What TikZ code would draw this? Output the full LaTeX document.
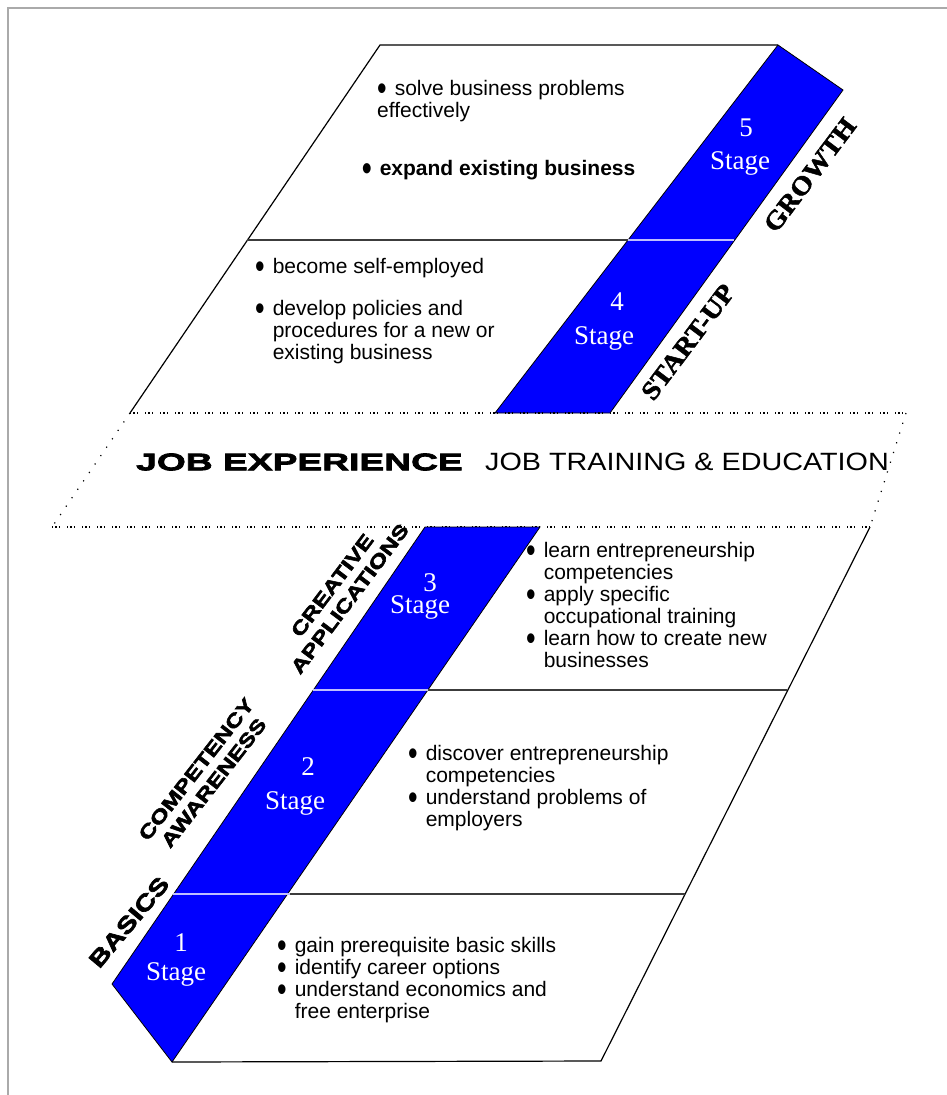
\documentclass[tikz,border=0pt]{standalone}
\usepackage{fontspec}
\setmainfont{Liberation Sans}
\newfontfamily\heavyfont{Liberation Sans}[FakeStretch=1.55, FakeBold=3]
\newfontfamily\phasefont{Liberation Sans}[FakeStretch=1.3, FakeBold=3]
\newfontfamily\widefont{Liberation Sans}[FakeStretch=1.15]
\newfontfamily\slabfont{Liberation Serif}[FakeStretch=1.1, FakeBold=2]
\newfontfamily\stagefont{Liberation Serif}
\usepackage{tikz}
\usetikzlibrary{positioning}

\definecolor{stageblue}{RGB}{0,0,255}
\definecolor{seamblue}{RGB}{190,190,255}
\definecolor{framegray}{RGB}{170,170,170}
\definecolor{rulegray}{RGB}{60,60,60}

\newcommand{\dotmark}{\raisebox{-5pt}{\scalebox{1.3}[1.7]{\textbullet}}}
\newcommand{\bullist}[1]{\begin{tabular}[t]{@{}l@{\hspace{8pt}}l@{}}#1\end{tabular}}

\tikzset{
  edge/.style={black, line width=1.2pt},
  stagebar/.style={fill=stageblue, draw=black, line width=0.8pt},
  divline/.style={rulegray, line width=2pt},
  seam/.style={seamblue, line width=1.2pt},
  bandline/.style={line width=1.2pt, dash pattern=on 1.2pt off 2.2pt on 1.2pt off 2.2pt on 1.2pt off 7pt},
  bandside/.style={line width=1.2pt, dash pattern=on 1.2pt off 9pt},
  bul/.style={anchor=base west, inner sep=0pt, font=\fontsize{21}{22}\selectfont},
  numtxt/.style={text=white, inner sep=0pt, font=\stagefont\fontsize{27}{30}\selectfont},
  phase/.style={inner sep=0pt, align=center, font=\phasefont\bfseries\fontsize{19}{22}\selectfont},
  phaseserif/.style={inner sep=0pt, font=\slabfont\bfseries\fontsize{26}{30}\selectfont}
}

\begin{document}
\begin{tikzpicture}[x=1pt, y=-1pt]
\useasboundingbox (0,0) rectangle (947,1095);

% frame
\draw[framegray, line width=1.5pt] (8,1095) -- (8,8) -- (947,8);

% upper block: start-up and growth
\draw[edge] (130,413) -- (380,45) -- (778,45);
\draw[stagebar] (778,45) -- (843,90) -- (610,413) -- (495,413) -- cycle;
\draw[divline] (247,240) -- (628,240);
\draw[seam] (628,240) -- (734,240);

% band across the middle
\draw[bandline] (130,413) -- (906,413);
\draw[bandline] (52,527) -- (870,527);
\draw[bandside] (130,413) -- (52,527);
\draw[bandside] (906,413) -- (870,527);
\node[anchor=west, inner sep=0pt, font=\heavyfont\bfseries\fontsize{24}{30}\selectfont] (jobexp) at (136,462) {JOB EXPERIENCE};
\node[anchor=west, inner sep=0pt, font=\widefont\fontsize{25}{30}\selectfont] (jobtrain) at (485,462) {JOB TRAINING \& EDUCATION};

% lower block: basics to creative applications
\draw[stagebar] (425,527) -- (540,527) -- (172,1062) -- (112,984) -- cycle;
\draw[edge] (870,527) -- (601,1061) -- (172,1062);
\draw[seam] (313,690) -- (428,690);
\draw[divline] (428,690) -- (787,690);
\draw[seam] (173,894) -- (290,894);
\draw[divline] (290,894) -- (685,894);

% stage numbers
\foreach \k/\nx/\ny/\sx/\sy in {5/746/128/740/163, 4/617/302/604/338, 3/430/583/420/607, 2/308/767/295/803, 1/181/943/176/974}{
  \node[numtxt] (n\k) at (\nx,\ny) {\k};
  \node[numtxt] (s\k) at (\sx,\sy) {Stage};
}

% phase names along the bars
\node[phaseserif, rotate=53] (growth) at (810,175) {GROWTH};
\node[phaseserif, rotate=53] (startup) at (688,342) {START-UP};
\node[phase, rotate=53] (creative) at (341,592) {CREATIVE\\APPLICATIONS};
\node[phase, rotate=52] (awareness) at (205,776) {COMPETENCY\\AWARENESS};
\node[phase, rotate=50, font=\phasefont\bfseries\fontsize{22.5}{26}\selectfont] (basics) at (129,922) {BASICS};

% bullet lists
\node[bul] (b51) at (377,95) {\bullist{\dotmark & solve business problems\\ \multicolumn{2}{@{}l@{}}{effectively}}};
\node[bul, font=\bfseries\fontsize{21}{22}\selectfont] (b52) at (362,175) {\bullist{\dotmark & expand existing business}};
\node[bul] (b41) at (255,273) {\bullist{\dotmark & become self-employed}};
\node[bul] (b42) at (255,315) {\bullist{\dotmark & develop policies and\\ & procedures for a new or\\ & existing business}};
\node[bul] (b31) at (526,557) {\bullist{\dotmark & learn entrepreneurship\\ & competencies\\ \dotmark & apply specific\\ & occupational training\\ \dotmark & learn how to create new\\ & businesses}};
\node[bul] (b21) at (408,760) {\bullist{\dotmark & discover entrepreneurship\\ & competencies\\ \dotmark & understand problems of\\ & employers}};
\node[bul] (b11) at (277,952) {\bullist{\dotmark & gain prerequisite basic skills\\ \dotmark & identify career options\\ \dotmark & understand economics and\\ & free enterprise}};
\end{tikzpicture}
\end{document}
